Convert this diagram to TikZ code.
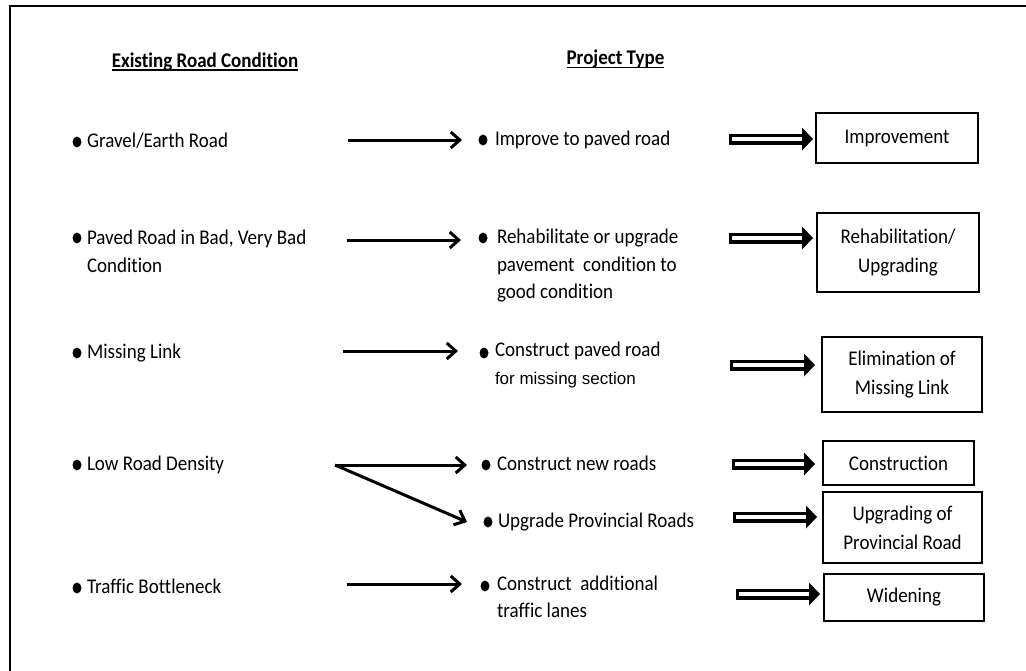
\documentclass[tikz,border=0pt]{standalone}
\usepackage{fontspec}
\setmainfont{Carlito}[Ligatures=NoCommon, FakeStretch=0.91]
\newfontfamily\arialfont{Liberation Sans}
\usetikzlibrary{arrows.meta,calc}

\tikzset{
  every node/.style={inner sep=0pt, outer sep=0pt},
  txt/.style={anchor=base west, align=left, font=\fontsize{20.9}{27.5}\selectfont},
  hdr/.style={anchor=base, font=\fontsize{20.9}{23}\selectfont\bfseries},
  box/.style={draw, line width=2.6pt, align=center, font=\fontsize{20.9}{29}\selectfont},
  flow/.style={line width=3pt, -{Straight Barb[length=9pt,width=16pt]}},
  frameline/.style={line width=2pt},
  uline/.style={line width=1.8pt},
}

% filled list bullet
\newcommand\bulletdot[1]{\fill (#1) ellipse [x radius=4.5pt, y radius=5.4pt];}
% outlined block arrow from #1 to the tip #2 (same height)
\newcommand\dblarrow[2]{%
  \fill ($(#1)+(0,-5.5)$) rectangle ($(#2)+(-10,5.5)$);
  \fill[white] ($(#1)+(3,-1.6)$) rectangle ($(#2)+(-10,1.6)$);
  \fill ($(#2)+(-11,-11.5)$) -- (#2) -- ($(#2)+(-11,11.5)$) -- cycle;}

\begin{document}
\begin{tikzpicture}[x=1pt,y=-1pt]
\useasboundingbox (0,0) rectangle (1026,670);
\draw[frameline] (1030,6) -- (10,6) -- (10,675);

% column headings
\node[hdr] (h1) at (205,67) {Existing Road Condition};
\draw[uline] ($(h1.base west)+(0,3)$) -- ($(h1.base east)+(0,3)$);
\node[hdr] (h2) at (615.5,64) {Project Type};
\draw[uline] ($(h2.base west)+(0,3.5)$) -- ($(h2.base east)+(0,3.5)$);

% existing conditions (base = last line)
\node[txt] (c1) at (87,147.5) {Gravel/Earth Road};
\node[txt] (c2) at (87,272) {Paved Road in Bad, Very Bad\\Condition};
\node[txt] (c3) at (87,358) {Missing Link};
\node[txt] (c4) at (87,470.5) {Low Road Density};
\node[txt] (c5) at (87,593.5) {Traffic Bottleneck};
\bulletdot{77,142}
\bulletdot{77,238}
\bulletdot{77,353}
\bulletdot{77,465}
\bulletdot{77,588}

% project types (base = last line)
\node[txt] (p1) at (495,145.5) {Improve to paved road};
\node[txt] (p2) at (497,298.5) {Rehabilitate or upgrade\\pavement\ \ condition to\\good condition};
\node[txt] (p3) at (495,384) {Construct paved road\\{\arialfont\fontsize{17}{17}\selectfont for missing section}};
\node[txt] (p4) at (497,470.5) {Construct new roads};
\node[txt] (p5) at (498,527.5) {Upgrade Provincial Roads};
\node[txt] (p6) at (497,617.5) {Construct\ \ additional\\traffic lanes};
\bulletdot{483,140}
\bulletdot{483,238}
\bulletdot{484,353}
\bulletdot{486,465}
\bulletdot{488,522}
\bulletdot{485,586}

% condition -> project arrows
\coordinate (a1s) at (348,140); \coordinate (a1e) at (462,140);
\coordinate (a2s) at (347,240); \coordinate (a2e) at (461,240);
\coordinate (a3s) at (343,351); \coordinate (a3e) at (458,351);
\coordinate (a4s) at (335,465); \coordinate (a4e) at (467,465);
\coordinate (a5e) at (467,522);
\coordinate (a6s) at (347,584); \coordinate (a6e) at (462,584);
\draw[flow] (a1s) -- (a1e);
\draw[flow] (a2s) -- (a2e);
\draw[flow] (a3s) -- (a3e);
\draw[flow] (a4s) -- (a4e);
\draw[flow] (a4s) -- (a5e);
\draw[flow] (a6s) -- (a6e);

% resulting programmes
\node[box, minimum width=162pt, minimum height=50pt] (t1) at (897,138) {Improvement};
\node[box, minimum width=162pt, minimum height=79pt] (t2) at (898,252.5) {Rehabilitation/\\Upgrading};
\node[box, minimum width=160pt, minimum height=75pt] (t3) at (902,374.5) {Elimination of\\Missing Link};
\node[box, minimum width=151pt, minimum height=44pt] (t4) at (898.5,463) {Construction};
\node[box, minimum width=159pt, minimum height=71pt] (t5) at (902.5,527.5) {Upgrading of\\Provincial Road};
\node[box, minimum width=160pt, minimum height=47pt] (t6) at (904,597.5) {Widening};

% project -> programme block arrows
\coordinate (d1s) at (729,139); \coordinate (d1e) at (813,139);
\coordinate (d2s) at (729,238); \coordinate (d2e) at (813,238);
\coordinate (d3s) at (730,365); \coordinate (d3e) at (815,365);
\coordinate (d4s) at (732,464); \coordinate (d4e) at (815,464);
\coordinate (d5s) at (733,517); \coordinate (d5e) at (817,517);
\coordinate (d6s) at (736,594); \coordinate (d6e) at (820,594);
\dblarrow{d1s}{d1e}
\dblarrow{d2s}{d2e}
\dblarrow{d3s}{d3e}
\dblarrow{d4s}{d4e}
\dblarrow{d5s}{d5e}
\dblarrow{d6s}{d6e}
\end{tikzpicture}
\end{document}
